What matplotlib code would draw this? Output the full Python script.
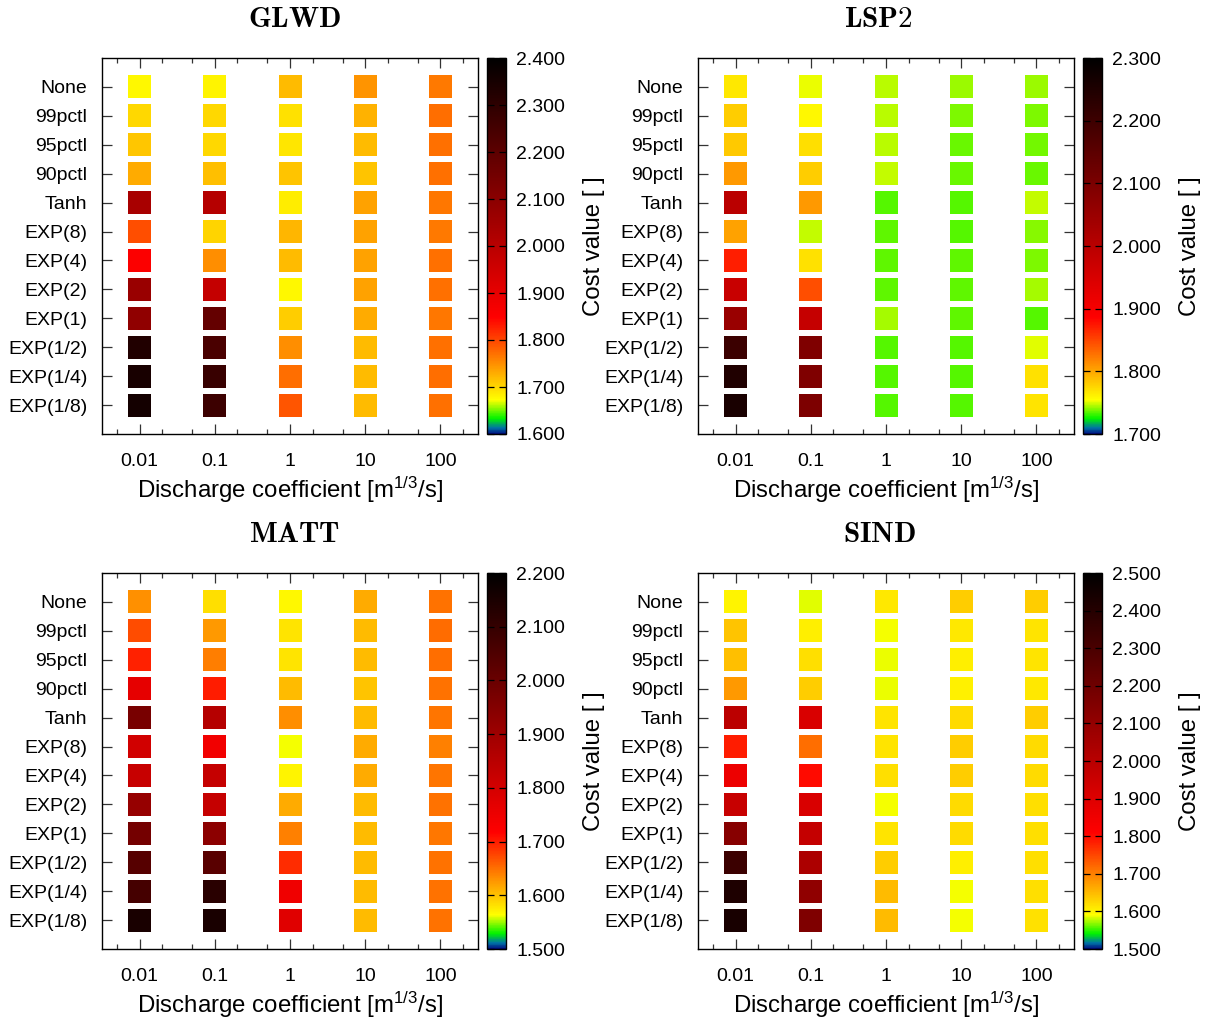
import numpy as np
import matplotlib
matplotlib.use("Agg")
import matplotlib.pyplot as plt
from matplotlib.colors import LinearSegmentedColormap
from matplotlib.ticker import FixedLocator, FormatStrFormatter

plt.rcParams['font.family'] = ['Liberation Sans', 'DejaVu Sans']
plt.rcParams['mathtext.fontset'] = 'custom'
plt.rcParams['mathtext.rm'] = 'Liberation Sans'
plt.rcParams['mathtext.it'] = 'Liberation Sans'
plt.rcParams['mathtext.bf'] = 'Liberation Sans:bold'

# ---------------- data ----------------
coef_labels = ["0.01", "0.1", "1", "10", "100"]
method_labels = ["None", "99pctl", "95pctl", "90pctl", "Tanh", "EXP(8)", "EXP(4)",
                 "EXP(2)", "EXP(1)", "EXP(1/2)", "EXP(1/4)", "EXP(1/8)"]

glwd = [
    [1.678, 1.680, 1.719, 1.746, 1.765],
    [1.700, 1.700, 1.693, 1.726, 1.772],
    [1.711, 1.700, 1.690, 1.719, 1.771],
    [1.730, 1.716, 1.713, 1.713, 1.771],
    [2.036, 2.008, 1.685, 1.737, 1.767],
    [1.794, 1.703, 1.723, 1.737, 1.765],
    [1.856, 1.751, 1.719, 1.737, 1.771],
    [2.069, 1.975, 1.678, 1.737, 1.771],
    [2.088, 2.184, 1.707, 1.730, 1.767],
    [2.328, 2.240, 1.751, 1.719, 1.771],
    [2.348, 2.278, 1.772, 1.719, 1.772],
    [2.355, 2.270, 1.790, 1.719, 1.771],
]
lsp2 = [
    [1.766, 1.752, 1.746, 1.743, 1.743],
    [1.780, 1.758, 1.746, 1.739, 1.739],
    [1.783, 1.771, 1.746, 1.737, 1.738],
    [1.807, 1.780, 1.747, 1.737, 1.737],
    [1.998, 1.807, 1.734, 1.735, 1.747],
    [1.803, 1.747, 1.736, 1.734, 1.741],
    [1.870, 1.770, 1.736, 1.736, 1.739],
    [1.976, 1.846, 1.736, 1.736, 1.744],
    [2.052, 1.981, 1.744, 1.736, 1.735],
    [2.204, 2.093, 1.734, 1.735, 1.751],
    [2.248, 2.093, 1.734, 1.734, 1.770],
    [2.258, 2.097, 1.735, 1.734, 1.769],
]
matt = [
    [1.630, 1.583, 1.568, 1.614, 1.649],
    [1.671, 1.625, 1.580, 1.604, 1.653],
    [1.698, 1.641, 1.580, 1.604, 1.651],
    [1.765, 1.700, 1.604, 1.599, 1.649],
    [1.973, 1.857, 1.632, 1.604, 1.647],
    [1.804, 1.742, 1.562, 1.614, 1.640],
    [1.823, 1.828, 1.571, 1.614, 1.647],
    [1.915, 1.828, 1.614, 1.604, 1.649],
    [1.980, 1.934, 1.640, 1.604, 1.645],
    [2.036, 2.031, 1.691, 1.604, 1.649],
    [2.070, 2.123, 1.746, 1.604, 1.649],
    [2.152, 2.152, 1.775, 1.604, 1.649],
]
sind = [
    [1.601, 1.584, 1.610, 1.634, 1.634],
    [1.641, 1.605, 1.589, 1.610, 1.614],
    [1.645, 1.619, 1.587, 1.605, 1.614],
    [1.678, 1.634, 1.587, 1.603, 1.610],
    [1.996, 1.914, 1.614, 1.623, 1.634],
    [1.786, 1.715, 1.614, 1.634, 1.623],
    [1.858, 1.801, 1.619, 1.634, 1.623],
    [1.962, 1.914, 1.589, 1.623, 1.619],
    [2.134, 1.969, 1.614, 1.623, 1.619],
    [2.341, 2.034, 1.634, 1.605, 1.619],
    [2.417, 2.110, 1.649, 1.589, 1.619],
    [2.435, 2.155, 1.649, 1.589, 1.616],
]

panel_titles = ["GLWD", "LSP2", "MATT", "SIND"]
panel_values = [glwd, lsp2, matt, sind]
panel_ranges = [(1.6, 2.4), (1.7, 2.3), (1.5, 2.2), (1.5, 2.5)]

cmap = LinearSegmentedColormap.from_list("cost", [
    (0.000, (0.00, 0.05, 0.50)),
    (0.015, (0.00, 0.45, 0.65)),
    (0.040, (0.00, 0.95, 0.00)),
    (0.090, (1.00, 1.00, 0.00)),
    (0.310, (1.00, 0.00, 0.00)),
    (1.000, (0.00, 0.00, 0.00)),
], N=512)

W, H = 1216, 1023
fig = plt.figure(figsize=(W / 100, H / 100), dpi=100)

# pixel geometry of panels: (ax_left, cbar_left, top, title_center_x)
geoms = [(102, 487, 58, 295), (698, 1083, 58, 878),
         (102, 487, 573, 295), (698, 1083, 573, 880)]
ax_w, ax_h, cb_w = 376, 376, 19

nrow, ncol = len(method_labels), len(coef_labels)
xs = np.arange(1, ncol + 1)
ys = np.arange(nrow, 0, -1)

for (axl, cbl, top, tcx), title, vals, (vmin, vmax) in zip(geoms, panel_titles, panel_values, panel_ranges):
    ax = fig.add_axes([axl / W, 1 - (top + ax_h) / H, ax_w / W, ax_h / H])
    cax = fig.add_axes([cbl / W, 1 - (top + ax_h) / H, cb_w / W, ax_h / H])
    v = np.array(vals)
    X, Y = np.meshgrid(xs, ys)
    sc = ax.scatter(X.ravel(), Y.ravel(), c=v.ravel(), cmap=cmap, vmin=vmin, vmax=vmax,
                    marker='s', s=(23 * 0.72) ** 2, linewidths=0)
    ax.set_xlim(0.5, ncol + 0.5)
    ax.set_ylim(0, nrow + 1)
    ax.set_xticks(xs)
    ax.set_xticklabels(coef_labels)
    ax.xaxis.set_minor_locator(FixedLocator(np.concatenate([xs - 0.3, xs + 0.3])))
    ax.set_yticks(ys)
    ax.set_yticklabels(method_labels)
    ax.tick_params(axis='both', which='major', direction='in', top=True, right=True,
                   length=7.2, width=0.9, color='#333333', labelsize=14)
    ax.tick_params(axis='x', which='major', pad=13.5)
    ax.tick_params(axis='y', which='major', pad=10.5)
    ax.tick_params(axis='x', which='minor', direction='in', top=True, bottom=True,
                   length=3.6, width=0.9, color='#333333')
    for sp in ax.spines.values():
        sp.set_linewidth(1.0)
    ax.set_xlabel(r'Discharge coefficient [m$^{1/3}$/s]', fontsize=17.3, labelpad=3.5)

    cb = fig.colorbar(sc, cax=cax)
    cb.set_ticks(np.arange(vmin, vmax + 1e-9, 0.1))
    cb.ax.yaxis.set_major_formatter(FormatStrFormatter('%.3f'))
    cb.ax.tick_params(direction='in', left=True, right=True, length=5, width=0.9,
                      labelsize=14, pad=7.5)
    cb.outline.set_linewidth(1.0)
    cb.set_label('Cost value [ ]', fontsize=17.3, labelpad=13)

    fig.text(tcx / W, 1 - (top - 39) / H, r'$\mathbf{' + title + '}$', math_fontfamily='cm',
             fontsize=21, ha='center', va='center')

fig.savefig("out.png", dpi=100)
